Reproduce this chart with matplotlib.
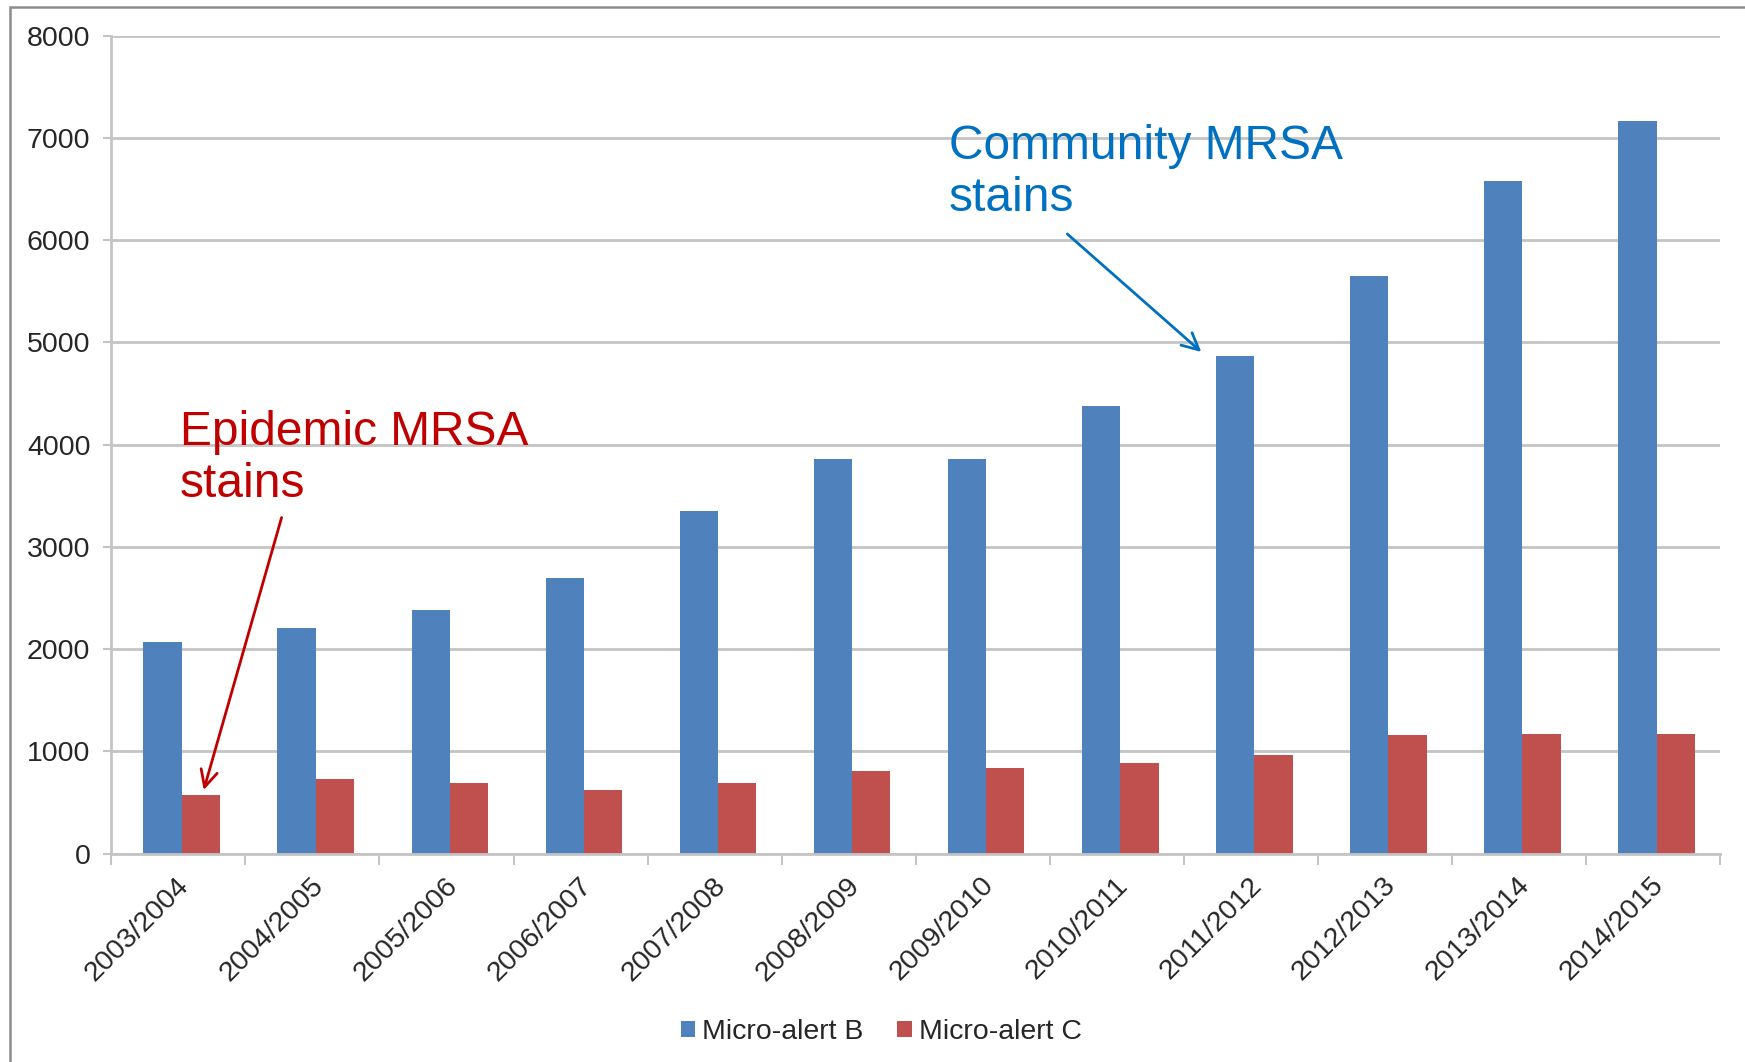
import matplotlib
matplotlib.use("Agg")
import matplotlib.pyplot as plt
import matplotlib.transforms as mtransforms
from matplotlib.patches import Rectangle
import numpy as np

plt.rcParams['font.family'] = ['Liberation Sans', 'DejaVu Sans']

seasons = ["2003/2004", "2004/2005", "2005/2006", "2006/2007", "2007/2008",
           "2008/2009", "2009/2010", "2010/2011", "2011/2012", "2012/2013",
           "2013/2014", "2014/2015"]
micro_alert_b = [2070, 2210, 2380, 2700, 3350, 3860, 3860, 4380, 4870, 5650, 6580, 7160]
micro_alert_c = [570, 730, 695, 620, 690, 810, 835, 890, 965, 1160, 1170, 1170]
y_ticks = [0, 1000, 2000, 3000, 4000, 5000, 6000, 7000, 8000]

BLUE = "#4F81BD"
RED = "#C0504D"
GRID = "#C4C4C4"
TEXT = "#262626"

fig = plt.figure(figsize=(17.45, 10.62), dpi=100)
ax = fig.add_axes([0.0638, 0.1962, 0.922, 0.7703])

x = np.arange(len(seasons))
w = 0.2857
shift = 0.025
ax.bar(x - w / 2 + shift, micro_alert_b, width=w, color=BLUE, label="Micro-alert B", zorder=3)
ax.bar(x + w / 2 + shift, micro_alert_c, width=w, color=RED, label="Micro-alert C", zorder=3)

ax.set_xlim(-0.5, len(seasons) - 0.5)
ax.set_ylim(0, 8000)
ax.set_yticks(y_ticks)
ax.set_yticklabels([str(v) for v in y_ticks], fontsize=20.5, color=TEXT)
ax.yaxis.grid(True, color=GRID, linewidth=2.0, zorder=0)
ax.tick_params(axis='y', length=6, width=1.5, color=GRID, pad=9)

# category boundary ticks on the x axis, labels at the centres
ax.set_xticks(x)
ax.set_xticks(np.arange(-0.5, len(seasons), 1.0), minor=True)
ax.tick_params(axis='x', which='major', length=0, pad=4)
ax.tick_params(axis='x', which='minor', length=8, width=1.5, color=GRID)
ax.set_xticklabels(seasons, fontsize=20.5, color=TEXT, rotation=45,
                   ha='right', va='center', rotation_mode='anchor')
offset = mtransforms.ScaledTranslation(5 / 72, -16 / 72, fig.dpi_scale_trans)
for lab in ax.get_xticklabels():
    lab.set_transform(lab.get_transform() + offset)

for side in ('top', 'right'):
    ax.spines[side].set_visible(False)
for side in ('left', 'bottom'):
    ax.spines[side].set_color(GRID)
    ax.spines[side].set_linewidth(2.0)
    ax.spines[side].set_zorder(4)

# callouts
ax.text(5.747, 6285, "Community MRSA\nstains", color="#0070C0", fontsize=34.5,
        ha='left', va='baseline', linespacing=1.2)
ax.annotate("", xy=(7.63, 4906), xytext=(6.63, 6060),
            arrowprops=dict(arrowstyle='->', color="#0070C0", lw=2.0,
                            mutation_scale=30, shrinkA=0, shrinkB=0), zorder=5)
ax.text(0.012, 3487, "Epidemic MRSA\nstains", color="#C00000", fontsize=34.5,
        ha='left', va='baseline', linespacing=1.2)
ax.annotate("", xy=(0.189, 622), xytext=(0.77, 3287),
            arrowprops=dict(arrowstyle='->', color="#C00000", lw=2.0,
                            mutation_scale=30, shrinkA=0, shrinkB=0), zorder=5)

fig.legend(loc='center', bbox_to_anchor=(0.505, 0.028), ncol=2, frameon=False,
           fontsize=20.5, handlelength=0.5, handleheight=0.5, handletextpad=0.25,
           columnspacing=1.2, labelcolor=TEXT)

# slide frame
fig.patches.append(Rectangle((10 / 1745, -0.5), 1.5, 1.5 - 7 / 1062,
                             transform=fig.transFigure, fill=False,
                             edgecolor="#8C8C8C", linewidth=1.8))

fig.savefig("out.png", dpi=100)
